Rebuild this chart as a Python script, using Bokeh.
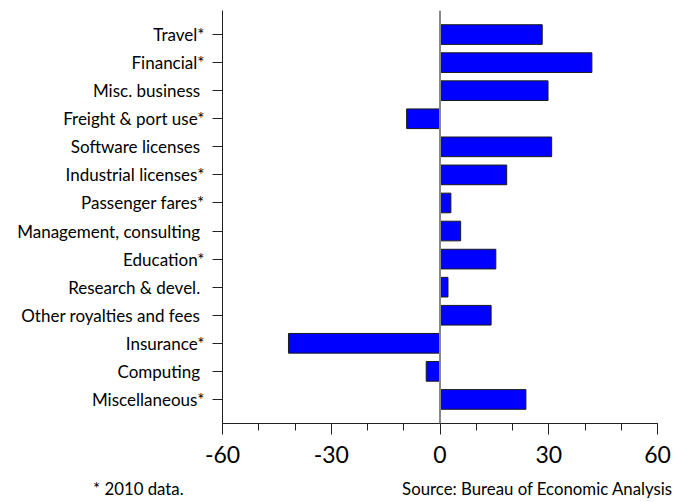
from bokeh.plotting import figure
from bokeh.models import FactorRange, Range1d, Span, FixedTicker, Div
from bokeh.layouts import column
from bokeh.embed import file_html
from bokeh.resources import INLINE

NBSP = "\u00a0"
categories = [
    "Travel*",
    "Financial*",
    "Misc. business" + NBSP,
    "Freight & port use*",
    "Software licenses" + NBSP,
    "Industrial licenses*",
    "Passenger fares*",
    "Management, consulting" + NBSP,
    "Education*",
    "Research & devel." + NBSP,
    "Other royalties and fees" + NBSP,
    "Insurance*",
    "Computing" + NBSP,
    "Miscellaneous*",
]
values = [28.2, 41.9, 29.8, -9.2, 30.8, 18.4, 3.0, 5.7, 15.4, 2.2, 14.1, -41.8, -3.8, 23.7]

x_ticks = [-60, -30, 0, 30, 60]
x_tick_labels = ["-60", "-30", "0", "30", "60"]
footnote_left = "* 2010 data."
footnote_right = "Source: Bureau of Economic Analysis"

FONT = "Lato"

factors = list(reversed(categories))
p = figure(
    width=679, height=478,
    y_range=FactorRange(factors=factors, range_padding=0.357, range_padding_units="absolute"),
    x_range=Range1d(-60, 60),
    output_backend="svg", toolbar_location=None,
    min_border_left=222, min_border_right=22, min_border_top=10, min_border_bottom=55,
)
p.outline_line_color = None
p.xgrid.visible = False
p.ygrid.visible = False

p.hbar(y=categories, left=0, right=values, height=0.7,
       fill_color="#0000FF", line_color="#1a1a1a", line_width=1)

p.add_layout(Span(location=0, dimension="height", line_color="#888888", line_width=2))

# x axis
xa = p.xaxis[0]
xa.ticker = FixedTicker(ticks=x_ticks, minor_ticks=list(range(-60, 61, 10)))
xa.major_label_overrides = {t: l for t, l in zip(x_ticks, x_tick_labels)}
xa.axis_line_color = "#222222"
xa.major_tick_line_color = "#222222"
xa.minor_tick_line_color = "#222222"
xa.major_tick_in = 0
xa.major_tick_out = 11
xa.minor_tick_in = 0
xa.minor_tick_out = 7
xa.major_label_text_font = FONT
xa.major_label_text_font_size = "23px"
xa.major_label_text_color = "#000000"
xa.major_label_standoff = 11

# y axis
ya = p.yaxis[0]
ya.axis_line_color = "#222222"
ya.major_tick_line_color = "#222222"
ya.major_tick_in = 0
ya.major_tick_out = 10
ya.minor_tick_line_color = None
ya.major_label_text_font = FONT
ya.major_label_text_font_size = "17px"
ya.major_label_text_color = "#000000"
ya.major_label_standoff = 8

foot = Div(
    text=(f'<div style="display:flex;justify-content:space-between;width:679px;box-sizing:border-box;'
          f'padding-left:93px;padding-right:7px;font-family:{FONT};font-size:16.8px;color:#000000;'
          f'line-height:22px;">'
          f'<span>{footnote_left}</span><span>{footnote_right}</span></div>'),
    width=679, height=22, margin=(0, 0, 0, 0),
)

layout = column(p, foot, spacing=0)
open("out.html", "w").write(file_html(layout, INLINE))
